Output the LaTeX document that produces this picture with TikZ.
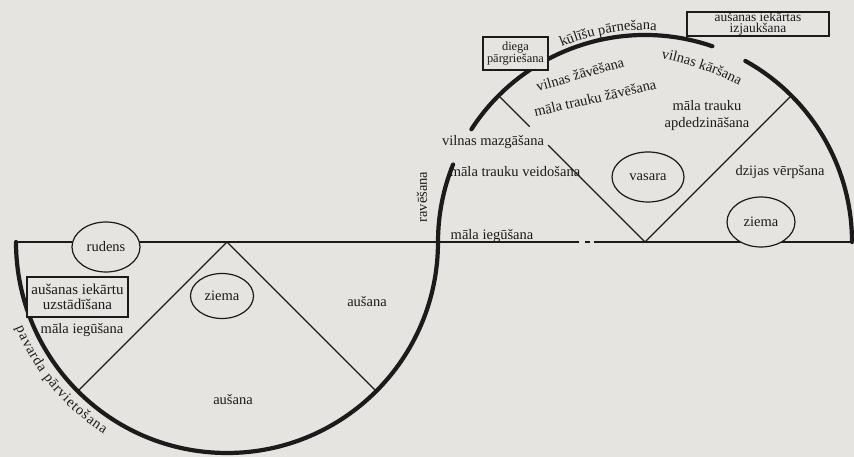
\documentclass[tikz,border=0pt]{standalone}
\usepackage{fontspec}
\setmainfont{Liberation Serif}
\usepackage{tikz}
\usetikzlibrary{shapes.geometric,decorations.text,calc}
\definecolor{pgpaper}{RGB}{229,228,225}
\definecolor{pgink}{RGB}{28,26,26}
\newcommand{\lblfont}{\fontsize{14.5}{16}\selectfont}

\begin{document}
\begin{tikzpicture}[x=1pt, y=1pt,
  rim/.style={line width=4.2pt, pgink, line cap=round},
  spoke/.style={line width=1.3pt, pgink},
  season/.style={ellipse, draw=pgink, line width=1.2pt, fill=pgpaper, inner sep=0pt,
                 font=\lblfont, text=pgink},
  task/.style={font=\lblfont, text=pgink, inner sep=0pt},
  tool/.style={draw=pgink, line width=1.2pt, fill=pgpaper, align=center, inner sep=0pt,
               text=pgink},
  arctext/.style={decorate, decoration={text along path, text align=center,
                  text color=pgink, text={|\lblfont|#1}}}
]
\fill[pgpaper] (0,0) rectangle (854,457);
\useasboundingbox (0,0) rectangle (854,457);

\coordinate (cl) at (227,215);
\coordinate (cu) at (645,215);

\draw[spoke] (16,215) -- (579,215) (585,215) -- (590,215) (594,215) -- (852,215);
\draw[spoke] (cl) -- ++(225:211);
\draw[spoke] (cl) -- ++(315:211);
\draw[spoke] (cu) -- ++(45:207);
\draw[spoke] (cu) -- ++(135:137);
\draw[spoke] ($(cu)+(135:163)$) -- ($(cu)+(135:205)$);

\draw[rim] (cl) ++(180:211) arc[start angle=180, end angle=360, radius=211];
\draw[rim] (cu) ++(180:207) arc[start angle=180, end angle=158, radius=207];
\draw[rim] (cu) ++(147:207) arc[start angle=147, end angle=71, radius=207];
\draw[rim] (cu) ++(61:207) arc[start angle=61, end angle=0, radius=207];

\node[season, minimum width=68pt, minimum height=50pt] (rudens) at (106,210) {rudens};
\node[season, minimum width=63pt, minimum height=45pt] (ziemalow) at (222,161) {ziema};
\node[season, minimum width=72pt, minimum height=50pt] (vasara) at (648,280) {vasara};
\node[season, minimum width=68pt, minimum height=50pt] (ziemaup) at (761,235) {ziema};

\node[tool, minimum width=101pt, minimum height=40pt, font=\fontsize{15}{15}\selectfont] (uzstad) at (77.5,160) {aušanas iekārtu\\uzstādīšana};
\node[tool, minimum width=65pt, minimum height=33pt, font=\fontsize{12.4}{12.5}\selectfont] (diega) at (515.5,403.5) {diega\\pārgriešana};
\node[tool, minimum width=142pt, minimum height=24pt, font=\fontsize{13.4}{11.5}\selectfont] (izjauk) at (758,433) {aušanas iekārtas\\izjaukšana};

\node[task] (veid) at (515,285) {māla trauku veidošana};
\node[task] (iegup) at (492,221) {māla iegūšana};
\node[task] (mazg) at (493,315) {vilnas mazgāšana};
\node[task, rotate=90] (rav) at (422,260) {ravēšana};
\node[task] (dzij) at (780,285) {dzijas vērpšana};
\node[task, align=center] (apded) at (707,341) {māla trauku\\[1pt]apdedzināšana};
\node[task] (ausr) at (367,155) {aušana};
\node[task] (ausb) at (233,57) {aušana};
\node[task] (ieglow) at (82,127) {māla iegūšana};
\node[task, rotate=13] (mtzav) at (595,359) {māla trauku žāvēšana};
\node[task, rotate=16] (vzav) at (580,383) {vilnas žāvēšana};

\path[arctext={kūlīšu pārnešana}] (cu) ++(130:212) arc[start angle=130, end angle=70, radius=212];
\coordinate (karc) at ($(701,388)+(251:320)$);
\path[arctext={vilnas kāršana}] (karc) ++(91:320) arc[start angle=91, end angle=51, radius=320];

% pavarda parvietosana round the lower rim, letter / distance along rim
\foreach \ch/\d [count=\k] in {p/4.1, a/11.8, v/19.6, a/27.3, r/33.8, d/40.8, a/48.5,
    p/60.8, ā/68.5, r/75.0, v/82.0, i/88.5, e/94.7, t/100.8, o/107.3, š/114.7,
    a/121.6, n/129.4, a/137.1}{
  \pgfmathsetmacro\chang{202+\d*0.2513}
  \node[task, anchor=base, rotate=\chang+90] (pv\k) at ($(cl)+(\chang:228)$) {\ch};
}
\end{tikzpicture}
\end{document}
